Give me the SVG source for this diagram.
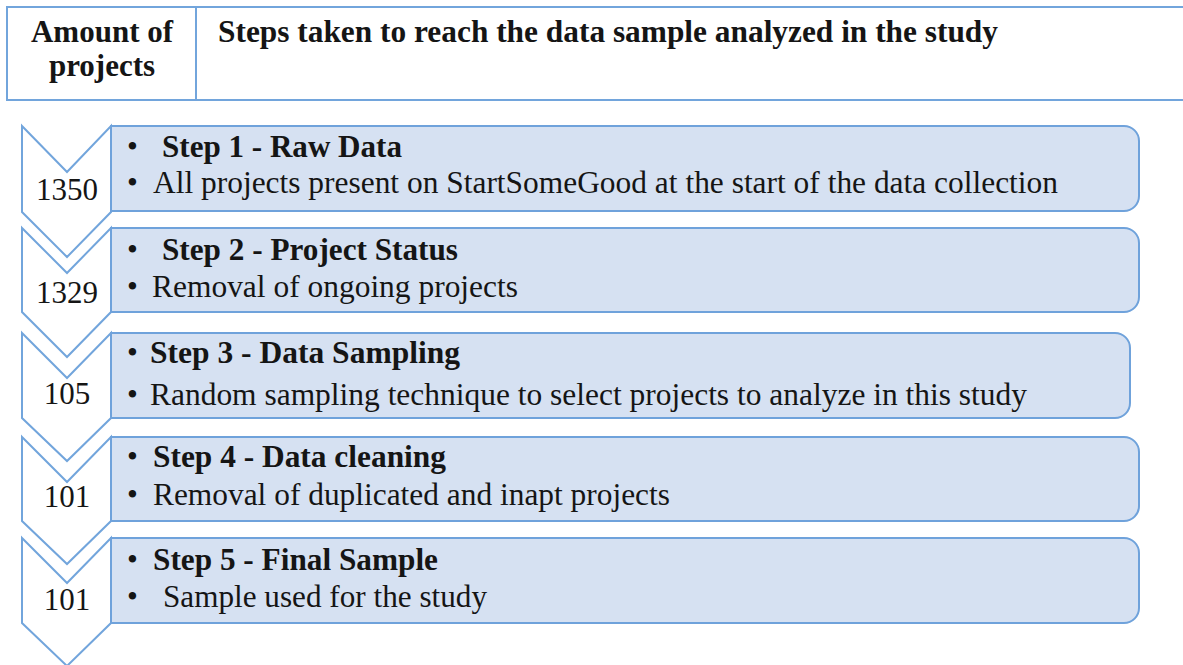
<svg xmlns="http://www.w3.org/2000/svg" width="1183" height="665" viewBox="0 0 1183 665">
  <style>
    .grid { fill: none; stroke: #72A5DC; stroke-width: 2; }
    .chev { fill: #FFFFFF; stroke: #72A5DC; stroke-width: 2; stroke-linejoin: miter; }
    .box { fill: #D6E1F2; stroke: #6FA2DB; stroke-width: 2; }
    text { font-family: "Liberation Serif", "Times New Roman", serif; font-size: 31px; fill: #151515; }
    .b { font-weight: bold; }
    .num { text-anchor: middle; }
    .hc { text-anchor: middle; font-weight: bold; }
  </style>

  <!-- header table -->
  <g id="header">
    <path class="grid" d="M1183 7 H7 V100 H1183 M196 7 V100"/>
    <text class="hc" x="102" y="42">Amount of</text>
    <text class="hc" x="102" y="76">projects</text>
    <text class="b" x="218" y="42" textLength="780" lengthAdjust="spacingAndGlyphs">Steps taken to reach the data sample analyzed in the study</text>
  </g>

  <!-- chevron connectors between the steps -->
  <g id="connectors">
    <path class="chev" d="M22 126 L67 172 L111 126 V212 L67 257 L22 212 Z"/>
    <path class="chev" d="M22 228 L67 273 L111 228 V312 L67 357 L22 312 Z"/>
    <path class="chev" d="M22 333 L67 378 L111 333 V418 L67 461 L22 418 Z"/>
    <path class="chev" d="M22 437 L67 482 L111 437 V521 L67 564 L22 521 Z"/>
    <path class="chev" d="M22 538 L67 583 L111 538 V623 L67 666 L22 623 Z"/>
  </g>

  <g id="step1">
    <path class="box" d="M111 126 H1124 A15 15 0 0 1 1139 141 V196 A15 15 0 0 1 1124 211 H111 Z"/>
    <text class="num" x="67" y="200">1350</text>
    <text x="127" y="157">•</text>
    <text class="b" x="162" y="157" textLength="240" lengthAdjust="spacingAndGlyphs">Step 1 - Raw Data</text>
    <text x="127" y="193">•</text>
    <text x="153" y="193" textLength="905" lengthAdjust="spacingAndGlyphs">All projects present on StartSomeGood at the start of the data collection</text>
  </g>

  <g id="step2">
    <path class="box" d="M111 228 H1124 A15 15 0 0 1 1139 243 V297 A15 15 0 0 1 1124 312 H111 Z"/>
    <text class="num" x="67" y="303">1329</text>
    <text x="127" y="260">•</text>
    <text class="b" x="162" y="260" textLength="296" lengthAdjust="spacingAndGlyphs">Step 2 - Project Status</text>
    <text x="127" y="297">•</text>
    <text x="152" y="297" textLength="366" lengthAdjust="spacingAndGlyphs">Removal of ongoing projects</text>
  </g>

  <g id="step3">
    <path class="box" d="M111 333 H1115 A15 15 0 0 1 1130 348 V403 A15 15 0 0 1 1115 418 H111 Z"/>
    <text class="num" x="67" y="404">105</text>
    <text x="127" y="363">•</text>
    <text class="b" x="150" y="363" textLength="310" lengthAdjust="spacingAndGlyphs">Step 3 - Data Sampling</text>
    <text x="127" y="405">•</text>
    <text x="150" y="405" textLength="877" lengthAdjust="spacingAndGlyphs">Random sampling technique to select projects to analyze in this study</text>
  </g>

  <g id="step4">
    <path class="box" d="M111 437 H1124 A15 15 0 0 1 1139 452 V506 A15 15 0 0 1 1124 521 H111 Z"/>
    <text class="num" x="67" y="507">101</text>
    <text x="127" y="467">•</text>
    <text class="b" x="153" y="467" textLength="293" lengthAdjust="spacingAndGlyphs">Step 4 - Data cleaning</text>
    <text x="127" y="505">•</text>
    <text x="153" y="505" textLength="517" lengthAdjust="spacingAndGlyphs">Removal of duplicated and inapt projects</text>
  </g>

  <g id="step5">
    <path class="box" d="M111 538 H1124 A15 15 0 0 1 1139 553 V608 A15 15 0 0 1 1124 623 H111 Z"/>
    <text class="num" x="67" y="610">101</text>
    <text x="127" y="570">•</text>
    <text class="b" x="153" y="570" textLength="285" lengthAdjust="spacingAndGlyphs">Step 5 - Final Sample</text>
    <text x="127" y="607">•</text>
    <text x="163" y="607" textLength="324" lengthAdjust="spacingAndGlyphs">Sample used for the study</text>
  </g>
</svg>
